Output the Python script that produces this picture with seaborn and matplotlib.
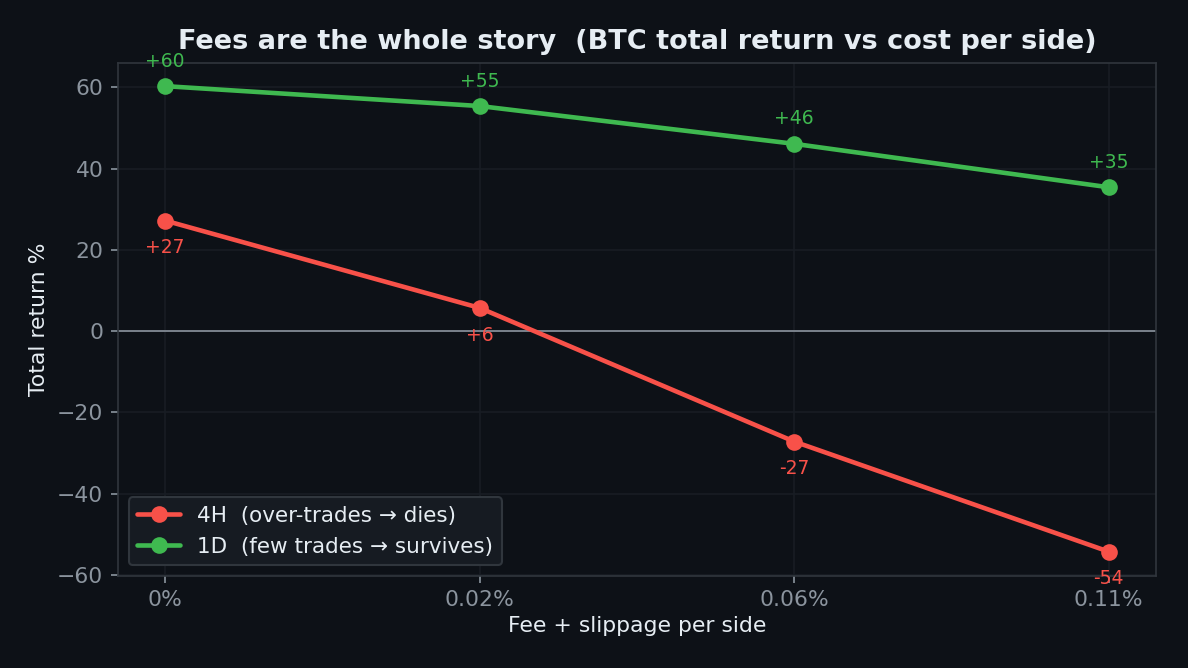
import numpy as np
import pandas as pd
import seaborn as sns
import matplotlib.pyplot as plt

# Data
fee_labels = ['0%', '0.02%', '0.06%', '0.11%']
ret_4h = [27.2, 5.7, -27.2, -54.3]
ret_1d = [60.3, 55.4, 46.1, 35.4]
series_names = ['4H  (over-trades → dies)', '1D  (few trades → survives)']

BG = '#0d1117'
RED = '#f85149'
GREEN = '#3fb950'

sns.set_theme(style='dark')
plt.rcParams['font.family'] = ['DejaVu Sans']

# long-form frame for seaborn
df = pd.DataFrame({
    'pos': list(range(len(fee_labels))) * 2,
    'ret': ret_4h + ret_1d,
    'series': [series_names[0]] * len(ret_4h) + [series_names[1]] * len(ret_1d),
})

fig, ax = plt.subplots(figsize=(7.92, 4.4534), dpi=150)
fig.patch.set_facecolor(BG)
ax.set_facecolor(BG)

ax.grid(True, color='#181d24', linewidth=0.8)
ax.axhline(0, color='#8b949e', linewidth=0.8, zorder=1)

sns.lineplot(data=df, x='pos', y='ret', hue='series', palette=[RED, GREEN],
             marker='o', markersize=8, markeredgewidth=0, linewidth=2.2, ax=ax)

# value labels: red below, green above
for i, v in enumerate(ret_4h):
    ax.annotate(f'{v:+.0f}', (i, v), xytext=(0, -13), textcoords='offset points',
                ha='center', va='center', color=RED, fontsize=9)
for i, v in enumerate(ret_1d):
    ax.annotate(f'{v:+.0f}', (i, v), xytext=(0, 12), textcoords='offset points',
                ha='center', va='center', color=GREEN, fontsize=9)

ax.set_xticks(range(len(fee_labels)))
ax.set_xticklabels(fee_labels)
ax.set_ylim(-60.3, 66)
ax.set_xlabel('Fee + slippage per side', color='#e6edf3', fontsize=10.5, labelpad=3)
ax.set_ylabel('Total return %', color='#e6edf3', fontsize=10.5)
ax.set_title('Fees are the whole story  (BTC total return vs cost per side)',
             color='#e6edf3', fontsize=13, fontweight='bold', pad=6.5)
ax.tick_params(colors='#8b949e', labelsize=10.5, length=3.5, width=0.8, left=True, bottom=True)
ax.tick_params(axis='x', pad=3)
for s in ax.spines.values():
    s.set_color('#30363d')
    s.set_linewidth(0.8)

leg = ax.legend(loc='lower left', fontsize=10.3, facecolor='#161b22', edgecolor='#30363d',
                framealpha=1)
for t in leg.get_texts():
    t.set_color('#e6edf3')

fig.subplots_adjust(left=0.0993, right=0.973, top=0.9057, bottom=0.1377)
plt.savefig('out.png', facecolor=BG)
